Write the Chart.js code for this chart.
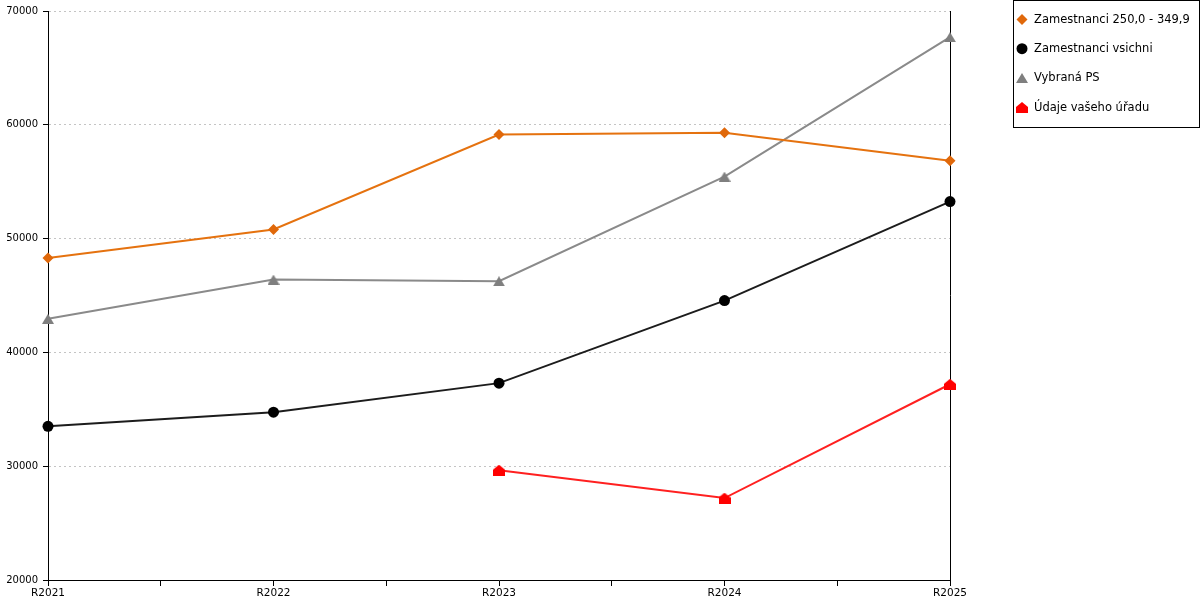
<!DOCTYPE html>
<html>
<head>
<meta charset="utf-8">
<script src="https://cdn.jsdelivr.net/npm/chart.js@4.4.1/dist/chart.umd.min.js"></script>
<style>
  html, body { margin: 0; padding: 0; background: #fff; }
  #wrap { position: relative; width: 1200px; height: 600px; }
</style>
</head>
<body>
<div id="wrap"><canvas id="chart"></canvas></div>
<script>
// roky na ose x
var years = ['R2021', 'R2022', 'R2023', 'R2024', 'R2025'];

// hodnoty řad
var zam250 = [48300, 50800, 59150, 59300, 56850];
var zamVsichni = [33500, 34750, 37300, 44550, 53250];
var vybranaPS = [42950, 46400, 46250, 55450, 67700];
var vasUrad = [null, null, 29650, 27200, 37200];

var seriesLabels = ['Zamestnanci 250,0 - 349,9', 'Zamestnanci vsichni', 'Vybraná PS', 'Údaje vašeho úřadu'];

var yTicks = [20000, 30000, 40000, 50000, 60000, 70000];

// vlastní značky: trojúhelník a "domeček"
function makeTriangle(color) {
  var c = document.createElement('canvas');
  c.width = 12; c.height = 10;
  var g = c.getContext('2d');
  g.fillStyle = color;
  g.beginPath();
  g.moveTo(6, 0);
  g.lineTo(12, 10);
  g.lineTo(0, 10);
  g.closePath();
  g.fill();
  return c;
}

function makeHouse(color) {
  var c = document.createElement('canvas');
  c.width = 12; c.height = 11;
  var g = c.getContext('2d');
  g.fillStyle = color;
  g.beginPath();
  g.moveTo(6, 0);
  g.lineTo(12, 5);
  g.lineTo(12, 11);
  g.lineTo(0, 11);
  g.lineTo(0, 5);
  g.closePath();
  g.fill();
  return c;
}

var triGray = makeTriangle('#7f7f7f');
var houseRed = makeHouse('#ff0000');

function toPoints(arr) {
  return arr.map(function (v, i) { return { x: i, y: v }; });
}

function drawMarker(ctx, ds, x, y) {
  var st = ds.pointStyle;
  ctx.save();
  ctx.fillStyle = ds.pointBackgroundColor;
  if (st instanceof HTMLCanvasElement) {
    ctx.drawImage(st, Math.round(x - st.width / 2), Math.round(y - st.height / 2));
  } else if (st === 'rectRot') {
    var r = ds.pointRadius;
    ctx.beginPath();
    ctx.moveTo(x, y - r); ctx.lineTo(x + r, y); ctx.lineTo(x, y + r); ctx.lineTo(x - r, y);
    ctx.closePath(); ctx.fill();
  } else {
    ctx.beginPath();
    ctx.arc(x, y, ds.pointRadius, 0, Math.PI * 2);
    ctx.fill();
  }
  ctx.restore();
}

// pravá svislá čára pod řadami, legenda v rámečku vpravo nahoře
var boxLegend = {
  id: 'boxLegend',
  beforeDatasetsDraw: function (chart) {
    var ctx = chart.ctx;
    var a = chart.chartArea;
    ctx.save();
    ctx.strokeStyle = '#000';
    ctx.lineWidth = 1;
    ctx.beginPath();
    ctx.moveTo(Math.round(a.right) + 0.5, a.top);
    ctx.lineTo(Math.round(a.right) + 0.5, a.bottom);
    ctx.stroke();
    ctx.restore();
  },
  afterDraw: function (chart) {
    var ctx = chart.ctx;
    ctx.save();
    ctx.strokeStyle = '#000';
    ctx.lineWidth = 1;
    ctx.strokeRect(1013.5, 0.5, 186, 127);
    ctx.font = '11.5px "DejaVu Sans"';
    ctx.textBaseline = 'middle';
    chart.data.datasets.forEach(function (ds, i) {
      var y = 19.5 + i * 29.2;
      drawMarker(ctx, ds, 1022, y);
      ctx.fillStyle = '#000';
      ctx.fillText(ds.label, 1034, y + 0.5);
    });
    ctx.restore();
  }
};

var datasets = [
  {
    label: seriesLabels[0],
    data: toPoints(zam250),
    borderColor: '#e5720f',
    pointBackgroundColor: '#e0680a',
    pointBorderColor: '#e0680a',
    pointStyle: 'rectRot',
    pointRadius: 5.5
  },
  {
    label: seriesLabels[1],
    data: toPoints(zamVsichni),
    borderColor: '#1c1c1c',
    pointBackgroundColor: '#000',
    pointBorderColor: '#000',
    pointStyle: 'circle',
    pointRadius: 5.5
  },
  {
    label: seriesLabels[2],
    data: toPoints(vybranaPS),
    borderColor: '#8a8a8a',
    pointBackgroundColor: '#7f7f7f',
    pointBorderColor: '#7f7f7f',
    pointStyle: triGray,
    pointRadius: 6
  },
  {
    label: seriesLabels[3],
    data: toPoints(vasUrad),
    borderColor: '#ff2020',
    pointBackgroundColor: '#ff0000',
    pointBorderColor: '#ff0000',
    pointStyle: houseRed,
    pointRadius: 6
  }
];

datasets.forEach(function (ds) {
  ds.borderWidth = 2;
  ds.tension = 0;
  ds.fill = false;
  ds.spanGaps = false;
  ds.pointBorderWidth = 0;
  ds.clip = false;
});

new Chart(document.getElementById('chart').getContext('2d'), {
  type: 'line',
  data: { datasets: datasets },
  options: {
    responsive: true,
    maintainAspectRatio: false,
    animation: false,
    layout: { padding: { top: 10, right: 250, left: 0, bottom: 0 } },
    plugins: {
      legend: { display: false },
      tooltip: { enabled: false }
    },
    scales: {
      x: {
        type: 'linear',
        min: 0,
        max: years.length - 1,
        afterFit: function (s) { s.height = 20; },
        afterBuildTicks: function (s) {
          var t = [];
          for (var v = 0; v <= years.length - 1; v += 0.5) t.push({ value: v });
          s.ticks = t;
        },
        ticks: {
          autoSkip: false,
          maxRotation: 0,
          padding: 1,
          color: '#000',
          font: { family: 'DejaVu Sans', size: 10.5 },
          callback: function (v) { return v % 1 === 0 ? years[v] : ''; }
        },
        grid: {
          drawOnChartArea: false,
          tickLength: 6,
          tickColor: '#000'
        },
        border: { color: '#000', width: 1 }
      },
      y: {
        min: yTicks[0],
        max: yTicks[yTicks.length - 1],
        afterFit: function (s) { s.width = 48; },
        afterBuildTicks: function (s) {
          s.ticks = yTicks.map(function (v) { return { value: v }; });
        },
        ticks: {
          padding: 5,
          color: '#000',
          font: { family: 'DejaVu Sans', size: 10 },
          callback: function (v) { return String(v); }
        },
        grid: {
          color: '#c4c4c4',
          lineWidth: 1,
          tickLength: 5,
          tickColor: '#000',
          tickBorderDash: []
        },
        border: { color: '#000', width: 1, dash: [2, 3] }
      }
    }
  },
  plugins: [boxLegend]
});
</script>
</body>
</html>
